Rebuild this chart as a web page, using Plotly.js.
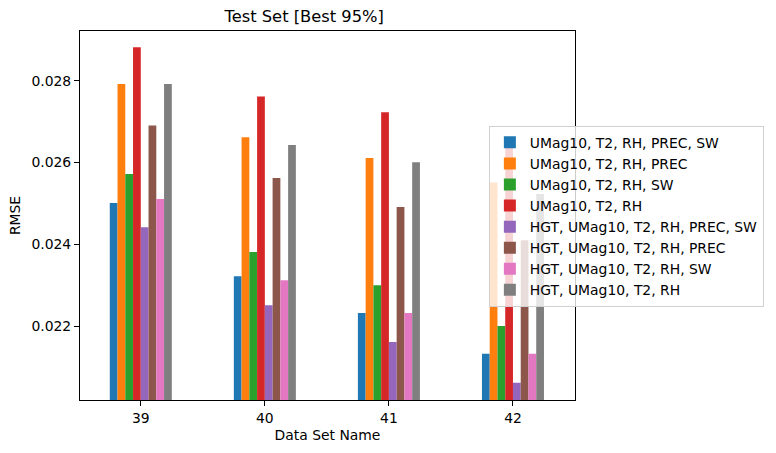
<!DOCTYPE html>
<html>
<head>
<meta charset="utf-8">
<script src="https://cdn.plot.ly/plotly-3.0.1.min.js"></script>
<style>
  html, body { margin: 0; padding: 0; background: #fff; }
  #chart { width: 776px; height: 453px; }
</style>
</head>
<body>
<div id="chart"></div>
<script>
// data sets on the x axis
const dataSets = ["39", "40", "41", "42"];

// one RMSE list per input combination
const umagT2RhPrecSw = [0.02501, 0.02322, 0.02232, 0.02132];
const umagT2RhPrec = [0.02792, 0.02662, 0.02611, 0.02551];
const umagT2RhSw = [0.02572, 0.02381, 0.02300, 0.02200];
const umagT2Rh = [0.02882, 0.02762, 0.02723, 0.02641];
const hgtUmagT2RhPrecSw = [0.02442, 0.02251, 0.02161, 0.02061];
const hgtUmagT2RhPrec = [0.02691, 0.02562, 0.02491, 0.02410];
const hgtUmagT2RhSw = [0.02511, 0.02312, 0.02232, 0.02132];
const hgtUmagT2Rh = [0.02792, 0.02643, 0.02601, 0.02523];

const seriesNames = [
  "UMag10, T2, RH, PREC, SW",
  "UMag10, T2, RH, PREC",
  "UMag10, T2, RH, SW",
  "UMag10, T2, RH",
  "HGT, UMag10, T2, RH, PREC, SW",
  "HGT, UMag10, T2, RH, PREC",
  "HGT, UMag10, T2, RH, SW",
  "HGT, UMag10, T2, RH",
];
const seriesValues = [
  umagT2RhPrecSw, umagT2RhPrec, umagT2RhSw, umagT2Rh,
  hgtUmagT2RhPrecSw, hgtUmagT2RhPrec, hgtUmagT2RhSw, hgtUmagT2Rh,
];
const colors = ["#1f77b4", "#ff7f0e", "#2ca02c", "#d62728", "#9467bd", "#8c564b", "#e377c2", "#7f7f7f"];

const traces = seriesNames.map((name, i) => ({
  type: "bar",
  name,
  x: dataSets,
  y: seriesValues[i],
  marker: { color: colors[i], line: { width: 0 } },
  hoverinfo: "x+y+name",
}));

const font = "DejaVu Sans, sans-serif";
const fs = 13.9;

const layout = {
  width: 776,
  height: 453,
  margin: { l: 80, r: 201, t: 31, b: 53 },
  paper_bgcolor: "#fff",
  plot_bgcolor: "#fff",
  font: { family: font, size: fs, color: "#000" },
  barmode: "group",
  bargap: 0.5,
  bargroupgap: 0,
  title: { text: "Test Set [Best 95%]", font: { family: font, size: 16.3, color: "#000" }, x: 0.392, xanchor: "center", y: 0.965, yanchor: "middle" },
  xaxis: {
    type: "category",
    range: [-0.49, 3.5],
    showline: true, mirror: true, linecolor: "#000", linewidth: 1,
    ticks: "outside", ticklen: 5, tickcolor: "#000",
    showgrid: false, zeroline: false,
    tickfont: { family: font, size: fs },
    title: { text: "Data Set Name", font: { family: font, size: fs }, standoff: 5 },
  },
  yaxis: {
    range: [0.02019, 0.02922],
    tickvals: [0.022, 0.024, 0.026, 0.028],
    tickformat: ".3f",
    showline: true, mirror: true, linecolor: "#000", linewidth: 1,
    ticks: "outside", ticklen: 5, tickcolor: "#000",
    showgrid: false, zeroline: false,
    tickfont: { family: font, size: fs },
    title: { text: "RMSE", font: { family: font, size: fs }, standoff: 7 },
  },
  legend: {
    x: 0.826, xanchor: "left",
    y: 0.743, yanchor: "top",
    bgcolor: "rgba(255,255,255,0.8)",
    bordercolor: "#d0d0d0", borderwidth: 1,
    font: { family: font, size: fs, color: "#000" },
    tracegroupgap: 0,
    itemwidth: 30,
  },
  showlegend: true,
};

Plotly.newPlot("chart", traces, layout, { displayModeBar: false, staticPlot: true });
</script>
</body>
</html>
